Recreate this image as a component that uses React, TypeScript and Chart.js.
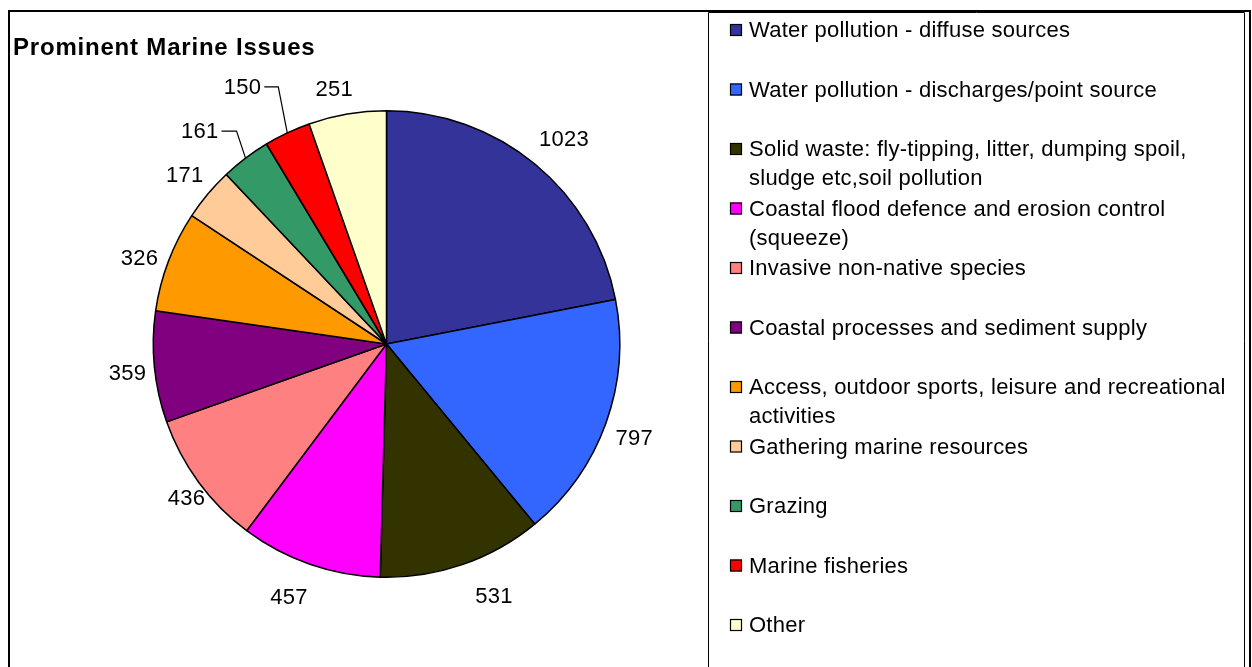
import { useEffect, useRef } from "react";
import { Chart, registerables } from "chart.js";

Chart.register(...registerables);

const title = "Prominent Marine Issues";
const categories = [
  "Water pollution - diffuse sources",
  "Water pollution - discharges/point source",
  "Solid waste: fly-tipping, litter, dumping spoil, sludge etc,soil pollution",
  "Coastal flood defence and erosion control (squeeze)",
  "Invasive non-native species",
  "Coastal processes and sediment supply",
  "Access, outdoor sports, leisure and recreational activities",
  "Gathering marine resources",
  "Grazing",
  "Marine fisheries",
  "Other",
];
const values = [1023, 797, 531, 457, 436, 359, 326, 171, 161, 150, 251];
const colors = [
  "#333399",
  "#3366FF",
  "#333300",
  "#FF00FF",
  "#FF8080",
  "#800080",
  "#FF9900",
  "#FFCC99",
  "#339966",
  "#FF0000",
  "#FFFFCC",
];

const FONT = "Liberation Sans, Arial, sans-serif";

const decorPlugin = {
  id: "decor",
  afterDraw(chart: any) {
    const ctx = chart.ctx as any;
    const H = chart.height;
    ctx.save();
    // outer frame
    ctx.strokeStyle = "#000";
    ctx.lineWidth = 2;
    ctx.beginPath();
    ctx.moveTo(9, H + 2);
    ctx.lineTo(9, 11);
    ctx.lineTo(1250, 11);
    ctx.lineTo(1250, H + 2);
    ctx.stroke();
    // legend box
    ctx.lineWidth = 1;
    ctx.beginPath();
    ctx.moveTo(708.5, H + 2);
    ctx.lineTo(708.5, 12.5);
    ctx.lineTo(1244.5, 12.5);
    ctx.lineTo(1244.5, H + 2);
    ctx.stroke();

    // title
    ctx.fillStyle = "#000";
    ctx.font = `bold 24px ${FONT}`;
    ctx.letterSpacing = "0.8px";
    ctx.textAlign = "left";
    ctx.textBaseline = "alphabetic";
    ctx.fillText(title, 13, 55);

    // legend
    ctx.font = `22px ${FONT}`;
    ctx.letterSpacing = "0.25px";
    const maxW = 490;
    categories.forEach((cat, i) => {
      const y0 = 30 + i * 59.5;
      const words = cat.split(" ");
      const lines: string[] = [];
      let cur = "";
      words.forEach((w) => {
        const t = cur ? cur + " " + w : w;
        if (ctx.measureText(t).width > maxW && cur) {
          lines.push(cur);
          cur = w;
        } else cur = t;
      });
      if (cur) lines.push(cur);
      ctx.fillStyle = colors[i];
      ctx.fillRect(730, y0 - 6, 12, 12);
      ctx.strokeStyle = "#000";
      ctx.lineWidth = 1.2;
      ctx.strokeRect(730.5, y0 - 5.5, 11, 11);
      ctx.fillStyle = "#000";
      ctx.textBaseline = "middle";
      lines.forEach((ln, k) => ctx.fillText(ln, 749, y0 + 1 + k * 29));
    });

    // data labels
    const meta = chart.getDatasetMeta(0);
    const leaders: Record<number, [number, number, number]> = {
      8: [-9, -27, 15],
      9: [-9, -46, 14],
    };
    const nudge: Record<number, [number, number]> = {
      0: [10, -2],
      1: [0, 5],
      2: [22, 3],
      3: [-11, 4],
      4: [12, -2],
      5: [3, 3],
      6: [-1, 7],
      10: [-8, 4],
    };
    ctx.textBaseline = "middle";
    meta.data.forEach((arc: any, i: number) => {
      const p = arc.getProps(["x", "y", "startAngle", "endAngle", "outerRadius"], true);
      const mid = (p.startAngle + p.endAngle) / 2;
      const text = String(values[i]);
      const ld = leaders[i];
      if (ld) {
        const ex = p.x + Math.cos(mid) * p.outerRadius;
        const ey = p.y + Math.sin(mid) * p.outerRadius;
        const bx = ex + ld[0];
        const by = ey + ld[1];
        ctx.strokeStyle = "#000";
        ctx.lineWidth = 1.2;
        ctx.beginPath();
        ctx.moveTo(ex, ey);
        ctx.lineTo(bx, by);
        ctx.lineTo(bx - ld[2], by);
        ctx.stroke();
        ctx.textAlign = "right";
        ctx.fillText(text, bx - ld[2] - 3, by + 1);
      } else {
        const r = p.outerRadius + 30;
        const n = nudge[i] || [0, 0];
        ctx.textAlign = "center";
        ctx.fillText(text, p.x + Math.cos(mid) * r + n[0], p.y + Math.sin(mid) * r + 1 + n[1]);
      }
    });
    ctx.restore();
  },
};

export default function App() {
  const ref = useRef<HTMLCanvasElement | null>(null);
  useEffect(() => {
    document.body.style.margin = "0";
    const chart = new Chart(ref.current as HTMLCanvasElement, {
      type: "pie",
      data: {
        labels: categories,
        datasets: [
          {
            data: values,
            backgroundColor: colors,
            borderColor: "#000",
            borderWidth: 1.5,
          },
        ],
      },
      options: {
        animation: false,
        responsive: false,
        layout: { padding: { left: 152, right: 631, top: 110, bottom: 89 } },
        plugins: {
          legend: { display: false },
          title: { display: false },
          tooltip: { enabled: false },
        },
      },
      plugins: [decorPlugin],
    });
    return () => chart.destroy();
  }, []);
  return (
    <div style={{ width: 1252, height: 667, background: "#fff", overflow: "hidden" }}>
      <canvas ref={ref} width={1252} height={667} style={{ display: "block" }} />
    </div>
  );
}
